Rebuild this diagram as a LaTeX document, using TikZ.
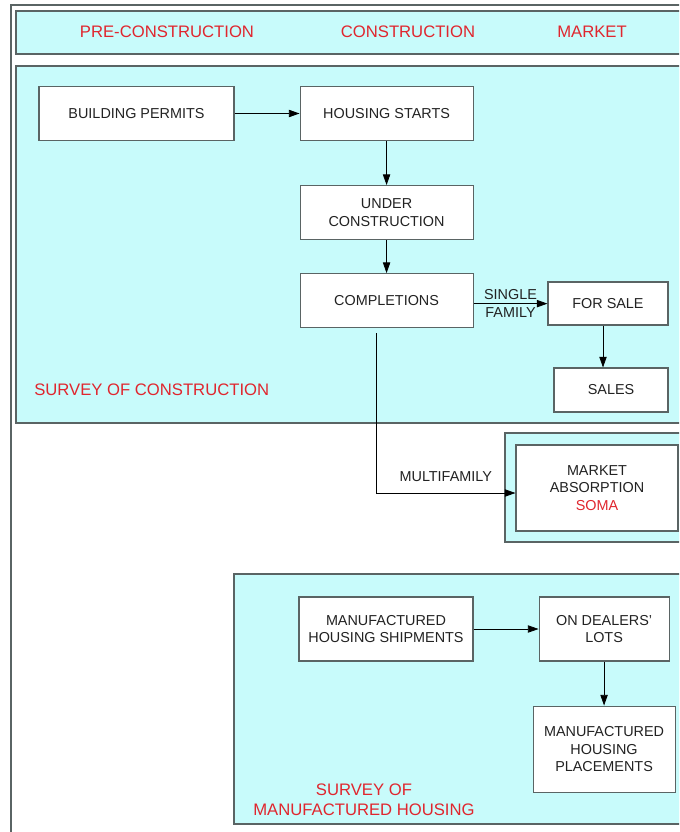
\documentclass[tikz,border=0pt]{standalone}
\usepackage{fontspec}
\setmainfont{Liberation Sans}
\usetikzlibrary{arrows.meta,positioning}
\definecolor{panel}{HTML}{C8FBFB}
\definecolor{heading}{HTML}{E0262E}
\definecolor{frame}{HTML}{5A6464}
\definecolor{ink}{HTML}{222222}

\begin{document}
\begin{tikzpicture}[x=0.75pt,y=-0.75pt,
  stage/.style={draw=frame, fill=white, text=ink, line width=0.8pt, minimum width=129.75pt, minimum height=40.5pt,
    align=center, inner sep=2pt, font=\fontsize{10.8}{13.25}\selectfont},
  panelbox/.style={draw=frame, fill=panel, line width=0.9pt},
  caption/.style={text=heading, align=center, inner sep=0pt, font=\fontsize{12.5}{15}\selectfont},
  flow/.style={-{Triangle[length=8pt,width=5.5pt]}, line width=0.6pt},
  tag/.style={text=ink, font=\fontsize{10.8}{13}\selectfont, inner sep=3pt}]
\useasboundingbox (0,0) rectangle (679,832);
\clip (0,0) rectangle (679,832);
\fill[white] (0,0) rectangle (679,832);
\draw[frame, line width=0.8pt] (11,5) rectangle (720,860);
% panels
\draw[panelbox] (16,11) rectangle (720,54);
\draw[panelbox] (16,66) rectangle (720,423);
\draw[panelbox] (505,433) rectangle (720,542);
\draw[panelbox] (234,574) rectangle (720,824);
% header
\node[caption] (pre) at (167,32) {PRE-CONSTRUCTION};
\node[caption] (const) at (408,32) {CONSTRUCTION};
\node[caption] (market) at (592,32) {MARKET};
% survey of construction
\node[stage, minimum width=146.25pt] (permits) at (136.5,113.5) {BUILDING PERMITS};
\node[stage, right=48.75pt of permits] (starts) {HOUSING STARTS};
\node[stage, below=33pt of starts] (underconst) {UNDER\\CONSTRUCTION};
\node[stage, below=24.75pt of underconst] (completions) {COMPLETIONS};
\node[stage, minimum width=90pt, minimum height=32.25pt] (forsale) at (608,303.5) {FOR SALE};
\node[stage, minimum width=85.5pt, minimum height=33pt] (sales) at (611,390) {SALES};
\node[caption, anchor=west] (soc) at (34,390) {SURVEY OF CONSTRUCTION};
\node[stage, minimum width=121.5pt, minimum height=64.5pt] (absorption) at (597,488)
  {MARKET\\ABSORPTION\\\textcolor{heading}{SOMA}};
\draw[flow] (permits) -- (starts);
\draw[flow] (starts) -- (underconst);
\draw[flow] (underconst) -- (completions);
\draw[flow] ([yshift=-2.25pt]completions.east) -- ([yshift=-2.25pt]completions.east -| forsale.west)
  node[tag, midway, above] {SINGLE} node[tag, midway, below] {FAMILY};
\draw[flow] ([xshift=-3.75pt]forsale.south) -- ([xshift=-3.75pt]forsale.south |- sales.north);
\draw[flow] ([xshift=-7.9pt,yshift=-3.75pt]completions.south) |- ([yshift=-3.75pt]absorption.west)
  node[tag, pos=0.75, above=5pt] {MULTIFAMILY};
% survey of manufactured housing
\node[stage, minimum width=130.5pt, minimum height=48pt] (shipments) at (386,629) {MANUFACTURED\\HOUSING SHIPMENTS};
\node[stage, minimum width=97.5pt, minimum height=48pt, right=48.75pt of shipments] (lots) {ON DEALERS’\\LOTS};
\node[stage, minimum width=106.5pt, minimum height=64.5pt, below=33pt of lots] (placements) {MANUFACTURED\\HOUSING\\PLACEMENTS};
\node[caption] (somh) at (364,800) {SURVEY OF\\MANUFACTURED HOUSING};
\draw[flow] (shipments) -- (lots);
\draw[flow] (lots) -- (placements);
\end{tikzpicture}
\end{document}
